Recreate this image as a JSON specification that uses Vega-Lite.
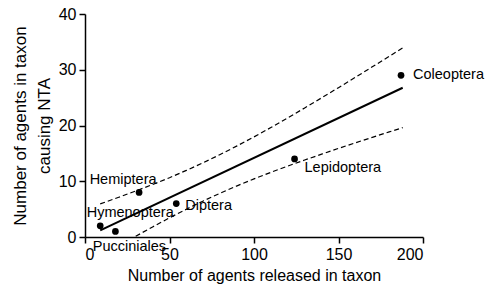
{
  "$schema": "https://vega.github.io/schema/vega-lite/v6.json",
  "autosize": "none",
  "width": 338,
  "height": 223,
  "padding": {"left": 85, "top": 14, "right": 66, "bottom": 53},
  "background": "white",
  "config": {
    "view": {"stroke": null},
    "font": "Liberation Sans",
    "axis": {
      "grid": false,
      "domainColor": "black",
      "domainWidth": 1.5,
      "tickColor": "black",
      "tickWidth": 1.5,
      "tickSize": 6,
      "labelColor": "black",
      "labelFont": "Liberation Sans",
      "labelFontSize": 16,
      "titleColor": "black",
      "titleFont": "Liberation Sans",
      "titleFontWeight": "normal"
    }
  },
  "datasets": {
    "pts": [
      {"taxon": "Hymenoptera", "released": 9, "nta": 2},
      {"taxon": "Pucciniales", "released": 18, "nta": 1},
      {"taxon": "Hemiptera", "released": 32, "nta": 8},
      {"taxon": "Diptera", "released": 54, "nta": 6},
      {"taxon": "Lepidoptera", "released": 124, "nta": 14},
      {"taxon": "Coleoptera", "released": 187, "nta": 29}
    ],
    "lines": [
      {"series": "fit", "released": 9, "nta": 1.18},
      {"series": "fit", "released": 188, "nta": 26.77},
      {"series": "upper", "released": 9, "nta": 5.94},
      {"series": "upper", "released": 20, "nta": 7.13},
      {"series": "upper", "released": 30, "nta": 8.25},
      {"series": "upper", "released": 40, "nta": 9.41},
      {"series": "upper", "released": 50, "nta": 10.64},
      {"series": "upper", "released": 60, "nta": 11.95},
      {"series": "upper", "released": 70, "nta": 13.33},
      {"series": "upper", "released": 80, "nta": 14.8},
      {"series": "upper", "released": 90, "nta": 16.34},
      {"series": "upper", "released": 100, "nta": 17.96},
      {"series": "upper", "released": 110, "nta": 19.64},
      {"series": "upper", "released": 120, "nta": 21.38},
      {"series": "upper", "released": 130, "nta": 23.15},
      {"series": "upper", "released": 140, "nta": 24.96},
      {"series": "upper", "released": 150, "nta": 26.79},
      {"series": "upper", "released": 160, "nta": 28.65},
      {"series": "upper", "released": 170, "nta": 30.52},
      {"series": "upper", "released": 180, "nta": 32.41},
      {"series": "upper", "released": 188, "nta": 33.92},
      {"series": "lower", "released": 30, "nta": 0.13},
      {"series": "lower", "released": 40, "nta": 1.81},
      {"series": "lower", "released": 50, "nta": 3.44},
      {"series": "lower", "released": 60, "nta": 4.99},
      {"series": "lower", "released": 70, "nta": 6.47},
      {"series": "lower", "released": 80, "nta": 7.86},
      {"series": "lower", "released": 90, "nta": 9.18},
      {"series": "lower", "released": 100, "nta": 10.42},
      {"series": "lower", "released": 110, "nta": 11.6},
      {"series": "lower", "released": 120, "nta": 12.72},
      {"series": "lower", "released": 130, "nta": 13.81},
      {"series": "lower", "released": 140, "nta": 14.86},
      {"series": "lower", "released": 150, "nta": 15.89},
      {"series": "lower", "released": 160, "nta": 16.89},
      {"series": "lower", "released": 170, "nta": 17.88},
      {"series": "lower", "released": 180, "nta": 18.85},
      {"series": "lower", "released": 188, "nta": 19.62}
    ]
  },
  "encoding": {
    "x": {
      "field": "released", "type": "quantitative",
      "scale": {"domain": [0, 200], "nice": false},
      "axis": {"values": [0, 50, 100, 150, 200], "title": "Number of agents released in taxon", "titleFontSize": 16, "labelPadding": 3, "titlePadding": 5}
    },
    "y": {
      "field": "nta", "type": "quantitative",
      "scale": {"domain": [0, 40], "nice": false},
      "axis": {"values": [0, 10, 20, 30, 40], "title": ["Number of agents in taxon", "causing NTA"], "titleFontSize": 17, "titleLineHeight": 24, "labelPadding": 3, "titlePadding": 5}
    }
  },
  "layer": [
    {
      "data": {"name": "lines"},
      "transform": [{"filter": "datum.series !== 'fit'"}],
      "mark": {"type": "line", "color": "black", "strokeWidth": 1.2, "strokeDash": [5, 3]},
      "encoding": {"detail": {"field": "series"}}
    },
    {
      "data": {"name": "lines"},
      "transform": [{"filter": "datum.series === 'fit'"}],
      "mark": {"type": "line", "color": "black", "strokeWidth": 2}
    },
    {
      "data": {"name": "pts"},
      "mark": {"type": "circle", "color": "black", "opacity": 1, "size": 45}
    },
    {
      "data": {"name": "pts"},
      "transform": [{"filter": "datum.taxon === 'Hemiptera'"}],
      "mark": {"type": "text", "font": "Liberation Sans", "fontSize": 14.5, "color": "black", "align": "center", "baseline": "middle", "dx": -16, "dy": -12},
      "encoding": {"text": {"field": "taxon"}}
    },
    {
      "data": {"name": "pts"},
      "transform": [{"filter": "datum.taxon === 'Hymenoptera'"}],
      "mark": {"type": "text", "font": "Liberation Sans", "fontSize": 14.5, "color": "black", "align": "center", "baseline": "middle", "dx": 30, "dy": -13},
      "encoding": {"text": {"field": "taxon"}}
    },
    {
      "data": {"name": "pts"},
      "transform": [{"filter": "datum.taxon === 'Pucciniales'"}],
      "mark": {"type": "text", "font": "Liberation Sans", "fontSize": 14.5, "color": "black", "align": "center", "baseline": "middle", "dx": 14, "dy": 16},
      "encoding": {"text": {"field": "taxon"}}
    },
    {
      "data": {"name": "pts"},
      "transform": [{"filter": "datum.taxon === 'Diptera'"}],
      "mark": {"type": "text", "font": "Liberation Sans", "fontSize": 14.5, "color": "black", "align": "left", "baseline": "middle", "dx": 9, "dy": 2},
      "encoding": {"text": {"field": "taxon"}}
    },
    {
      "data": {"name": "pts"},
      "transform": [{"filter": "datum.taxon === 'Lepidoptera'"}],
      "mark": {"type": "text", "font": "Liberation Sans", "fontSize": 14.5, "color": "black", "align": "left", "baseline": "middle", "dx": 10, "dy": 9},
      "encoding": {"text": {"field": "taxon"}}
    },
    {
      "data": {"name": "pts"},
      "transform": [{"filter": "datum.taxon === 'Coleoptera'"}],
      "mark": {"type": "text", "font": "Liberation Sans", "fontSize": 14.5, "color": "black", "align": "left", "baseline": "middle", "dx": 12, "dy": 0},
      "encoding": {"text": {"field": "taxon"}}
    }
  ]
}
